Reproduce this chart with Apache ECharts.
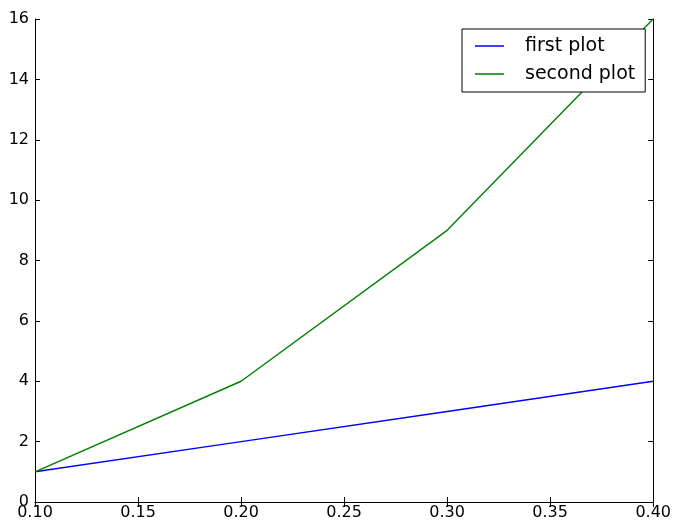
<!DOCTYPE html>
<html>
<head>
<meta charset="utf-8">
<script src="https://cdn.jsdelivr.net/npm/echarts@6/dist/echarts.min.js"></script>
<style>html,body{margin:0;padding:0;background:#fff}#c{width:674px;height:523px}</style>
</head>
<body>
<div id="c"></div>
<script>
var xValues = [0.1, 0.2, 0.3, 0.4];
var firstPlot = [1, 2, 3, 4];
var secondPlot = [1, 4, 9, 16];
var seriesNames = ['first plot', 'second plot'];

var chart = echarts.init(document.getElementById('c'), null, {renderer: 'canvas'});
var font = 'DejaVu Sans';
var axisCommon = {
  axisLine: {show: true, lineStyle: {color: '#000', width: 1}},
  axisTick: {show: true, inside: true, length: 5, lineStyle: {color: '#000', width: 1}},
  splitLine: {show: false}
};
function pairs(ys){ return xValues.map(function(x,i){ return [x, ys[i]]; }); }
chart.setOption({
  animation: false,
  grid: {left: 35, top: 19, right: 19, bottom: 21, containLabel: false},
  xAxis: [
    Object.assign({type: 'value', min: 0.1, max: 0.4, interval: 0.05, position: 'bottom',
      axisLabel: {color: '#000', fontSize: 16, fontFamily: font, margin: 3,
        formatter: function(v){ return v.toFixed(2); }}}, axisCommon),
    Object.assign({type: 'value', min: 0.1, max: 0.4, interval: 0.05, position: 'top',
      axisLabel: {show: false}}, axisCommon)
  ],
  yAxis: [
    Object.assign({type: 'value', min: 0, max: 16, interval: 2, position: 'left',
      axisLabel: {color: '#000', fontSize: 16, fontFamily: font, margin: 6}}, axisCommon),
    Object.assign({type: 'value', min: 0, max: 16, interval: 2, position: 'right',
      axisLabel: {show: false}}, axisCommon)
  ],
  legend: {
    left: 462, top: 29, orient: 'vertical',
    borderColor: '#000', borderWidth: 1, borderRadius: 0,
    backgroundColor: '#fff',
    padding: [7, 10, 8, 13], itemGap: 8,
    itemWidth: 29, itemHeight: 1.5, icon: 'rect',
    textStyle: {fontSize: 19, fontFamily: font, color: '#000', lineHeight: 20, padding: [0, 0, 0, 16]},
    data: seriesNames
  },
  series: [
    {name: seriesNames[0], type: 'line', data: pairs(firstPlot), showSymbol: false, symbol: 'none',
      lineStyle: {color: '#0000ff', width: 1.4}, itemStyle: {color: '#0000ff'}},
    {name: seriesNames[1], type: 'line', data: pairs(secondPlot), showSymbol: false, symbol: 'none',
      lineStyle: {color: '#008000', width: 1.4}, itemStyle: {color: '#008000'}}
  ]
});
</script>
</body>
</html>
